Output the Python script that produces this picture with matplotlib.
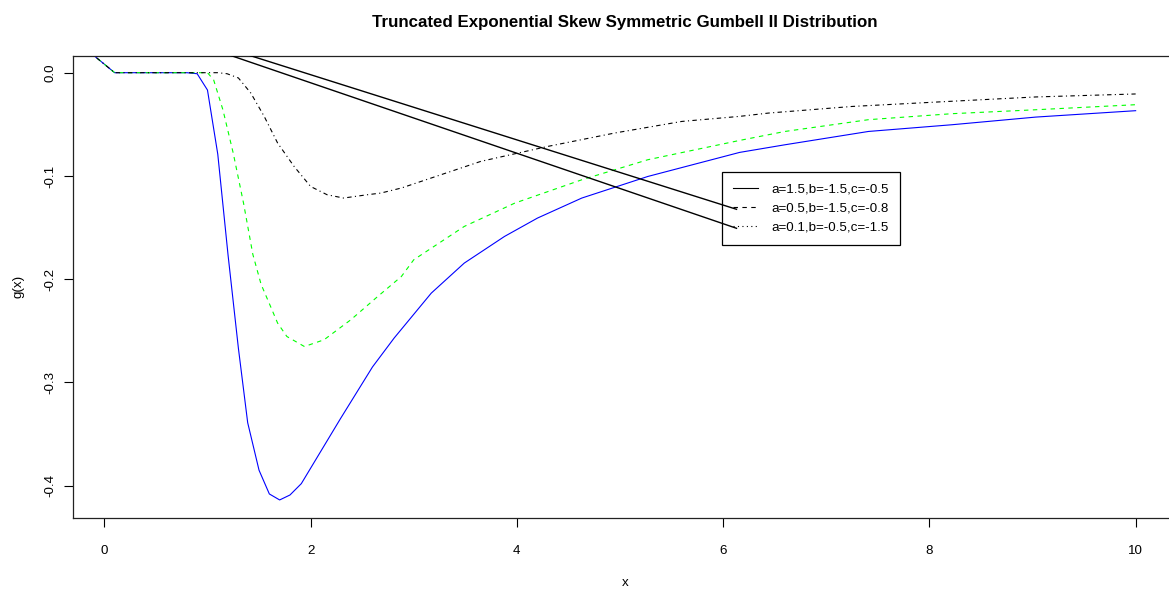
import matplotlib
matplotlib.use("Agg")
import matplotlib.pyplot as plt

plt.rcParams['font.family'] = ['Liberation Sans', 'DejaVu Sans']

# ---- data ----
blue_x = [-0.2, 0.1, 0.2, 0.3, 0.4, 0.5, 0.6, 0.7, 0.8, 0.9, 1.0, 1.1, 1.2, 1.3, 1.39, 1.5, 1.6, 1.7, 1.8, 1.91,
          2.29, 2.6, 2.81, 3.17, 3.49, 3.88, 4.2, 4.63, 5.27, 6.16, 6.6, 7.41, 8.22, 9.03, 10.0]
blue_y = [0.0247, 0.0, 0.0, 0.0, 0.0, 0.0, 0.0, 0.0, 0.0, -0.001, -0.0168, -0.079, -0.177, -0.267, -0.339, -0.385,
          -0.408, -0.4138, -0.409, -0.398, -0.335, -0.285, -0.257, -0.2135, -0.1844, -0.1586, -0.1408, -0.1214,
          -0.1005, -0.0772, -0.0698, -0.0569, -0.0504, -0.043, -0.0368]

green_x = [-0.2, 0.1, 0.2, 0.3, 0.4, 0.5, 0.6, 0.7, 0.8, 0.9, 1.0, 1.06, 1.15, 1.25, 1.35, 1.44, 1.52, 1.61, 1.68,
           1.77, 1.94, 2.13, 2.39, 2.65, 2.88, 3.0, 3.49, 3.98, 4.63, 5.27, 6.16, 6.6, 7.41, 8.22, 9.03, 10.0]
green_y = [0.0247, 0.0, 0.0, 0.0, 0.0, 0.0, 0.0, 0.0, 0.0, 0.0, 0.0, -0.007, -0.036, -0.078, -0.1265, -0.176, -0.205,
           -0.226, -0.2425, -0.2555, -0.2652, -0.2587, -0.2393, -0.2168, -0.1974, -0.1812, -0.1489, -0.1263,
           -0.1037, -0.0843, -0.0656, -0.0569, -0.0455, -0.0397, -0.0359, -0.031]

black_x = [-0.2, 0.1, 0.2, 0.3, 0.4, 0.5, 0.6, 0.7, 0.8, 0.9, 1.0, 1.1, 1.19, 1.3, 1.42, 1.55, 1.68, 1.84, 2.0,
           2.16, 2.32, 2.55, 2.68, 2.88, 3.65, 4.3, 4.95, 5.6, 6.16, 6.44, 7.25, 8.19, 9.03, 10.0]
black_y = [0.0247, 0.0, 0.0, 0.0, 0.0, 0.0, 0.0, 0.0, 0.0, 0.0, 0.0, 0.0, -0.001, -0.0051, -0.0197, -0.0423,
           -0.0681, -0.0908, -0.1102, -0.1182, -0.1214, -0.1182, -0.1166, -0.1117, -0.0859, -0.0714, -0.0584,
           -0.0472, -0.0423, -0.0391, -0.0327, -0.0278, -0.0235, -0.0206]

# two straight connector lines that run into the legend keys
conn_x = [0.0, 6.13]
connA_y = [0.0612, -0.1323]
connB_y = [0.0585, -0.1507]

legend_labels = ["a=1.5,b=-1.5,c=-0.5", "a=0.5,b=-1.5,c=-0.8", "a=0.1,b=-0.5,c=-1.5"]
x_ticks = [0, 2, 4, 6, 8, 10]
y_ticks = [0.0, -0.1, -0.2, -0.3, -0.4]

title = "Truncated Exponential Skew Symmetric Gumbell II Distribution"

# ---- figure ----
W, H = 1169, 591
fig = plt.figure(figsize=(W / 100, H / 100), dpi=100)
ax_l, ax_r, ax_t, ax_b = 73.4, 1176.9, 55.7, 517.5
ax = fig.add_axes([ax_l / W, 1 - ax_b / H, (ax_r - ax_l) / W, (ax_b - ax_t) / H])

lw = 0.8
ax.plot(blue_x, blue_y, color='#0000FF', lw=lw, solid_joinstyle='miter')
ax.plot(green_x, green_y, color='#00FF00', lw=lw, linestyle=(0, (4, 4)))
ax.plot(black_x, black_y, color='black', lw=lw, linestyle=(0, (1, 3, 4, 3)))
ax.plot(conn_x, connA_y, color='black', lw=1.0, zorder=6)
ax.plot(conn_x, connB_y, color='black', lw=1.0, zorder=6)

ax.set_xlim(-0.3, 10.4)
ax.set_ylim(-0.4308, 0.01646)

ax.set_xticks(x_ticks)
ax.set_xticklabels([str(v) for v in x_ticks])
ax.set_yticks(y_ticks)
ax.set_yticklabels(["%.1f" % v for v in y_ticks], rotation=90, va='center')

fs = 9.6
ax.tick_params(axis='both', direction='out', length=6.5, width=0.8, labelsize=fs, colors='black')
ax.tick_params(axis='x', pad=13)
ax.tick_params(axis='y', pad=6)
for s in ['left', 'bottom', 'top']:
    ax.spines[s].set_linewidth(0.9)
    ax.spines[s].set_color('#222222')
ax.spines['right'].set_visible(False)

ax.set_xlabel('x', fontsize=fs, labelpad=14.5)
ax.set_ylabel('g(x)', fontsize=fs, labelpad=14)
ax.set_title(title, fontsize=12.2, fontweight='bold', pad=21)

from matplotlib.lines import Line2D
handles = [Line2D([], [], color='black', lw=lw),
           Line2D([], [], color='black', lw=lw, linestyle=(0, (4, 4))),
           Line2D([], [], color='black', lw=lw, linestyle=(0, (1, 3)))]
leg = ax.legend(handles, legend_labels, loc='upper left',
                bbox_to_anchor=(721.7 / W, 1 - 171.7 / H), bbox_transform=fig.transFigure,
                fontsize=fs, frameon=True, fancybox=False, framealpha=1, edgecolor='black',
                borderpad=0.85, labelspacing=0.5, handlelength=1.9, handletextpad=0.95,
                borderaxespad=0.0)
leg.get_frame().set_linewidth(0.9)

fig.savefig('out.png', dpi=100)
